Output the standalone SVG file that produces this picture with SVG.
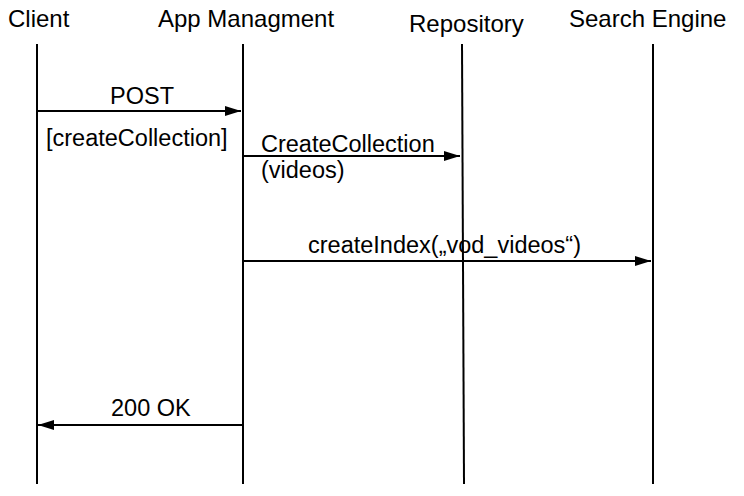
<svg xmlns="http://www.w3.org/2000/svg" width="744" height="496" viewBox="0 0 744 496">
<style>
text{font-family:"Liberation Sans",Arial,sans-serif;font-size:23.5px;fill:#000}
text.hd{font-size:24px}
.life{stroke:#000;stroke-width:2;fill:none}
.msg{stroke:#000;stroke-width:2;fill:none}
</style>
<defs>
<marker id="ah" markerWidth="16" markerHeight="10" refX="16" refY="5" orient="auto" markerUnits="userSpaceOnUse">
<path d="M0,0 L16,5 L0,10 Z" fill="#000"/>
</marker>
</defs>
<rect width="744" height="496" fill="#fff"/>
<g id="client">
<text class="hd" x="8" y="27">Client</text>
<line class="life" x1="37" y1="44" x2="37" y2="484"/>
</g>
<g id="app">
<text class="hd" x="158" y="27">App Managment</text>
<line class="life" x1="243" y1="44" x2="243" y2="484"/>
</g>
<g id="repository">
<text class="hd" x="409" y="32">Repository</text>
<line class="life" x1="462" y1="44" x2="464" y2="484" stroke-width="1.5"/>
</g>
<g id="search">
<text class="hd" x="569" y="27">Search Engine</text>
<line class="life" x1="653" y1="44" x2="653" y2="484"/>
</g>
<g id="connectors">
<line class="msg" x1="37" y1="111" x2="241" y2="111" marker-end="url(#ah)"/>
<text x="110" y="104">POST</text>
<text x="46" y="146">[createCollection]</text>
<line class="msg" x1="243" y1="156" x2="460" y2="156" marker-end="url(#ah)"/>
<text x="261" y="152">CreateCollection</text>
<text x="261" y="178">(videos)</text>
<line class="msg" x1="243" y1="261" x2="651" y2="261" marker-end="url(#ah)"/>
<text x="308" y="253">createIndex(„vod_videos“)</text>
<line class="msg" x1="243" y1="425" x2="38" y2="425" marker-end="url(#ah)"/>
<text x="111" y="416">200 OK</text>
</g>
</svg>
